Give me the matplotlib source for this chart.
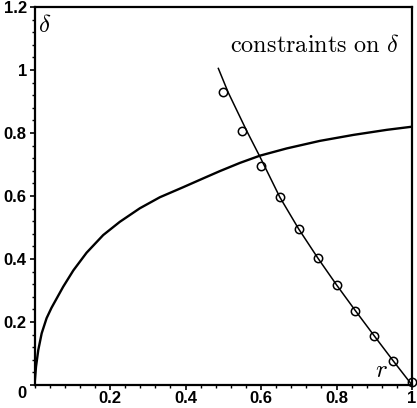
import matplotlib
matplotlib.use("Agg")
import matplotlib.pyplot as plt
import matplotlib.transforms as mtransforms
from matplotlib.ticker import MultipleLocator

# curve (rising curve from origin)
curve_r = [0, 0.004, 0.01, 0.019, 0.032, 0.045, 0.076, 0.103, 0.138, 0.182, 0.226,
           0.279, 0.332, 0.394, 0.447, 0.491, 0.544, 0.597, 0.668, 0.756, 0.845,
           0.933, 1.0]
curve_d = [0, 0.058, 0.111, 0.164, 0.212, 0.245, 0.312, 0.364, 0.42, 0.476, 0.518,
           0.561, 0.596, 0.628, 0.656, 0.679, 0.705, 0.728, 0.751, 0.775, 0.794,
           0.81, 0.82]

# falling line
line_r = [0.487, 0.513, 0.562, 0.597, 0.65, 0.70, 0.75, 0.80, 0.85, 0.90, 0.95, 1.0]
line_d = [1.005, 0.929, 0.807, 0.725, 0.596, 0.495, 0.404, 0.318, 0.236, 0.156, 0.077, 0.0]

# circles
pts_r = [0.5, 0.55, 0.6, 0.65, 0.7, 0.75, 0.8, 0.85, 0.9, 0.95, 1.0]
pts_d = [0.929, 0.807, 0.695, 0.596, 0.495, 0.404, 0.318, 0.236, 0.156, 0.076, 0.008]

xticks = [0.2, 0.4, 0.6, 0.8, 1]
xlabels = ["0.2", "0.4", "0.6", "0.8", "1"]
yticks = [0, 0.2, 0.4, 0.6, 0.8, 1, 1.2]
ylabels = ["0", "0.2", "0.4", "0.6", "0.8", "1", "1.2"]

plt.rcParams["mathtext.fontset"] = "cm"

fig = plt.figure(figsize=(4.17, 4.08), dpi=100)
ax = fig.add_axes([34.5/417, 23/408, 377.5/417, 378/408])

ax.plot(curve_r, curve_d, color="black", lw=1.7)
ax.plot(line_r, line_d, color="black", lw=1.1)
ax.plot(pts_r, pts_d, "o", mfc="none", mec="black", ms=6, mew=1.1, clip_on=False)

ax.set_xlim(0, 1)
ax.set_ylim(0, 1.2)
ax.set_xticks(xticks)
ax.set_xticklabels(xlabels)
ax.set_yticks(yticks)
ax.set_yticklabels(ylabels)
ax.xaxis.set_minor_locator(MultipleLocator(0.04))
ax.yaxis.set_minor_locator(MultipleLocator(0.04))
ax.tick_params(which="major", length=3.5, width=1.2, direction="out")
ax.tick_params(which="minor", length=2, width=1.0, direction="out")
ax.tick_params(axis="x", pad=1)
ax.tick_params(axis="y", pad=2)
ax.tick_params(top=False, right=False)
for lab in ax.get_xticklabels() + ax.get_yticklabels():
    lab.set_fontfamily("Liberation Sans")
    lab.set_fontweight("bold")
    lab.set_fontsize(12)
# the origin label sits a little lower, like the reference
zero = ax.get_yticklabels()[0]
zero.set_transform(zero.get_transform() +
                   mtransforms.ScaledTranslation(0, -7/100, fig.dpi_scale_trans))
for sp in ax.spines.values():
    sp.set_linewidth(1.6)

ax.text(0.009, 0.983, r"$\delta$", transform=ax.transAxes, fontsize=18,
        ha="left", va="top")
ax.text(0.966, 0.90, r"$\mathrm{constraints\ on}\ \delta$", transform=ax.transAxes,
        fontsize=17.5, ha="right", va="center")
ax.text(0.92, 0.04, r"$r$", transform=ax.transAxes, fontsize=18,
        ha="center", va="center")

fig.savefig("out.png", dpi=100)
